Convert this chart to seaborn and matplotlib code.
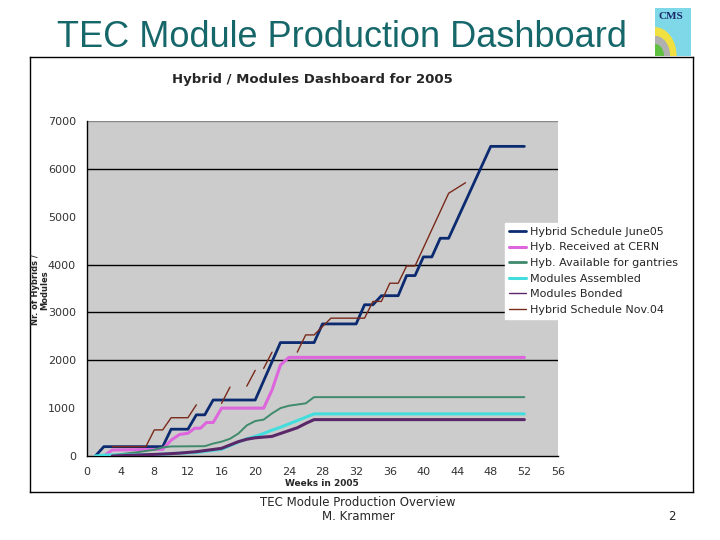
import numpy as np
import pandas as pd
import matplotlib
matplotlib.use("Agg")
import matplotlib.pyplot as plt
import seaborn as sns
from matplotlib.patches import Wedge
from matplotlib.lines import Line2D

# --- data (week, cumulative count) ---
june05_weeks = [1, 2, 9, 10, 12, 13, 14, 15, 20, 23, 27, 28, 32, 33, 34, 35, 37, 38, 39, 40, 41, 42, 43, 48, 52]
june05_vals = [0, 195, 195, 560, 560, 860, 860, 1170, 1170, 2370, 2370, 2760, 2760, 3160, 3160, 3350, 3350,
               3770, 3770, 4160, 4160, 4550, 4550, 6470, 6470]

received_weeks = [2, 3, 9, 10, 11, 12, 12.8, 13.5, 14.2, 15, 16, 21, 22, 23, 24, 52]
received_vals = [0, 125, 140, 330, 450, 475, 580, 580, 700, 700, 1000, 1000, 1380, 1900, 2060, 2060]

gantries_weeks = [2, 4, 6, 8, 9, 10, 14, 15, 16, 17, 18, 19, 20, 21, 22, 23, 24, 26, 27, 52]
gantries_vals = [0, 40, 80, 130, 180, 200, 205, 260, 300, 360, 470, 640, 730, 760, 890, 1000, 1050, 1100, 1230, 1230]

assembled_weeks = [1, 2, 4, 8, 10, 13, 16, 18, 19, 20, 21, 22, 23, 24, 25, 26, 27, 52]
assembled_vals = [0, 20, 20, 30, 50, 75, 140, 290, 360, 410, 470, 540, 600, 670, 740, 810, 880, 880]

bonded_weeks = [3, 6, 9, 11, 13, 16, 18, 19, 20, 21, 22, 23, 24, 25, 26, 27, 52]
bonded_vals = [0, 20, 40, 60, 90, 160, 300, 350, 380, 395, 410, 470, 530, 590, 680, 760, 760]

# Nov.04 schedule is drawn in broken pieces; NaN marks a gap
nov04_weeks = [3, 7, 8, 9, 10, 12, 13, 14.5, 16, 17, 18, 19, 20, 20.5, 21, 22, 23.5, 25, 26, 27, 29, 33,
               34, 35, 36, 37, 38, 39, 43, 45]
nov04_vals = [195, 195, 545, 545, 800, 800, 1070, np.nan, 1100, 1440, np.nan, 1460, 1790, np.nan, 1830, 2170,
              np.nan, 2170, 2530, 2530, 2880, 2880, 3230, 3230, 3610, 3610, 3970, 3970, 5490, 5710]

x_ticks = list(range(0, 57, 4))
y_ticks = list(range(0, 7001, 1000))
grid_vals = [2000, 3000, 4000, 6000]

series = [
    ("Hybrid Schedule June05", june05_weeks, june05_vals, "#0b2a70", 2.0),
    ("Hyb. Received at CERN", received_weeks, received_vals, "#dd66dd", 2.2),
    ("Hyb. Available for gantries", gantries_weeks, gantries_vals, "#3f8a6c", 1.4),
    ("Modules Assembled", assembled_weeks, assembled_vals, "#44dddd", 2.2),
    ("Modules Bonded", bonded_weeks, bonded_vals, "#5a2868", 2.2),
]
nov04 = ("Hybrid Schedule Nov.04", "#7a2a1a", 1.0)

sns.set_theme(style="white")
plt.rcParams["font.family"] = ["DejaVu Sans"]

fig = plt.figure(figsize=(7.2, 5.4), dpi=100)
fig.patch.set_facecolor("white")

# chart frame as a background axes
frame = fig.add_axes([30 / 720, 1 - 492 / 540, 663 / 720, 435 / 540], zorder=-5)
frame.set_facecolor("white")
frame.set_xticks([])
frame.set_yticks([])
for s in frame.spines.values():
    s.set_visible(True)
    s.set_color("black")
    s.set_linewidth(1.0)

ax = fig.add_axes([87 / 720, 1 - 456 / 540, 471 / 720, 335 / 540], zorder=1)
ax.set_facecolor("#cccccc")

for y in grid_vals:
    ax.axhline(y, color="black", lw=1.0, zorder=1)
ax.axhline(7000, color="#888888", lw=1.0, zorder=1)

handles = []
for name, wk, vals, col, lw in series:
    sns.lineplot(x=wk, y=vals, ax=ax, color=col, lw=lw, estimator=None, sort=False, zorder=3)
    handles.append(Line2D([], [], color=col, lw=lw if lw > 1.5 else 2.0, label=name))

# broken schedule line: split into pieces at NaN
seg = np.cumsum(np.isnan(nov04_vals))
nov_df = pd.DataFrame({"week": nov04_weeks, "val": nov04_vals, "seg": seg}).dropna()
sns.lineplot(data=nov_df, x="week", y="val", units="seg", estimator=None, ax=ax,
             color=nov04[1], lw=nov04[2], sort=False, zorder=4)
handles[4] = Line2D([], [], color="#5a2868", lw=1.0, label="Modules Bonded")
handles.append(Line2D([], [], color=nov04[1], lw=1.0, label=nov04[0]))

ax.set_xlim(0, 56)
ax.set_ylim(0, 7000)
ax.set_xticks(x_ticks)
ax.set_yticks(y_ticks)
ax.tick_params(axis="both", direction="out", length=5, width=1, color="black",
               labelsize=8, labelcolor="#333333", pad=3)
for s in ["top", "right"]:
    ax.spines[s].set_visible(False)
for s in ["left", "bottom"]:
    ax.spines[s].set_color("black")
    ax.spines[s].set_linewidth(1.0)
ax.set_xlabel("")
ax.set_ylabel("")

fig.text(322 / 720, 1 - 484 / 540, "Weeks in 2005", ha="center", va="center", fontsize=6.5, fontweight="bold")
fig.text(40 / 720, 1 - 290 / 540, "Nr. of Hybrids /\nModules", ha="center", va="center", rotation=90,
         fontsize=6, fontweight="bold", linespacing=1.0)
fig.text(312 / 720, 1 - 80 / 540, "Hybrid / Modules Dashboard for 2005", ha="center", va="center",
         fontsize=9.5, fontweight="bold")

leg = fig.legend(handles=handles, loc="upper left", bbox_to_anchor=(505 / 720, 1 - 223 / 540),
                 fontsize=8, frameon=True, fancybox=False, framealpha=1.0, handlelength=1.5,
                 handletextpad=0.4, borderpad=0.35, labelspacing=0.5, borderaxespad=0)
leg.get_frame().set_edgecolor("white")
leg.get_frame().set_facecolor("white")
leg.set_zorder(10)

# slide title and footer
fig.text(57 / 720, 1 - 47 / 540, "TEC Module Production Dashboard", ha="left", va="baseline",
         fontsize=26, color="#16676a", family="Liberation Sans")
fig.text(358 / 720, 1 - 502 / 540, "TEC Module Production Overview", ha="center", va="center", fontsize=8.5)
fig.text(358 / 720, 1 - 517 / 540, "M. Krammer", ha="center", va="center", fontsize=8.5)
fig.text(672 / 720, 1 - 517 / 540, "2", ha="center", va="center", fontsize=8.5)

# small CMS logo
lg = fig.add_axes([655 / 720, 1 - 56 / 540, 36 / 720, 48 / 540])
lg.set_xlim(0, 1)
lg.set_ylim(0, 1)
lg.set_facecolor("#7fd8e8")
for r, c in [(0.75, "#7fd8e8"), (0.6, "#f0e040"), (0.42, "#b0b0b0"), (0.25, "#60c040")]:
    lg.add_patch(Wedge((0, 0), r, 0, 90, facecolor=c, edgecolor="none"))
lg.text(0.45, 0.82, "CMS", ha="center", va="center", fontsize=8, family="Liberation Serif",
        fontweight="bold", color="#1a2a6a")
lg.set_xticks([])
lg.set_yticks([])
for s in lg.spines.values():
    s.set_visible(False)

fig.savefig("out.png", dpi=100)
